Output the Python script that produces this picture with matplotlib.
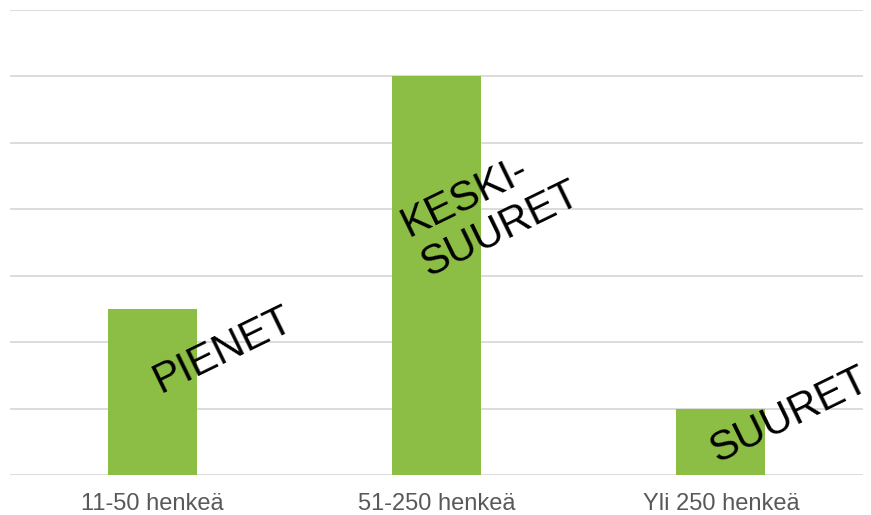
import matplotlib.pyplot as plt

categories = ["11-50 henkeä", "51-250 henkeä", "Yli 250 henkeä"]
values = [2.5, 6, 1]
labels = ["PIENET", "KESKI-\nSUURET", "SUURET"]
label_pos = [(0.25, 1.88), (1.19, 3.99), (2.24, 0.9)]

plt.rcParams['font.family'] = ['Liberation Sans', 'DejaVu Sans']

fig = plt.figure(figsize=(8.71, 5.15), dpi=100)
ax = fig.add_axes([10 / 871, 40 / 515, 853 / 871, 465 / 515])

x = range(len(categories))
ax.bar(x, values, width=0.313, color="#8cbd44", zorder=3)

ax.set_xlim(-0.5, 2.5)
ax.set_ylim(0, 7)
ax.set_yticks(range(0, 8))
ax.yaxis.grid(True, color="#d9d9d9", linewidth=1.3, zorder=0)
ax.tick_params(axis="y", left=False, labelleft=False)
ax.set_xticks(list(x))
ax.set_xticklabels(categories, fontsize=17, color="#595959")
ax.tick_params(axis="x", length=0, pad=13)
for s in ax.spines.values():
    s.set_visible(False)

for (lx, ly), txt in zip(label_pos, labels):
    ax.text(lx, ly, txt, fontsize=30, rotation=26, ha="center", va="center",
            multialignment="left", rotation_mode="anchor", zorder=4,
            clip_on=False, linespacing=1.15)

plt.savefig("out.png", dpi=100)
